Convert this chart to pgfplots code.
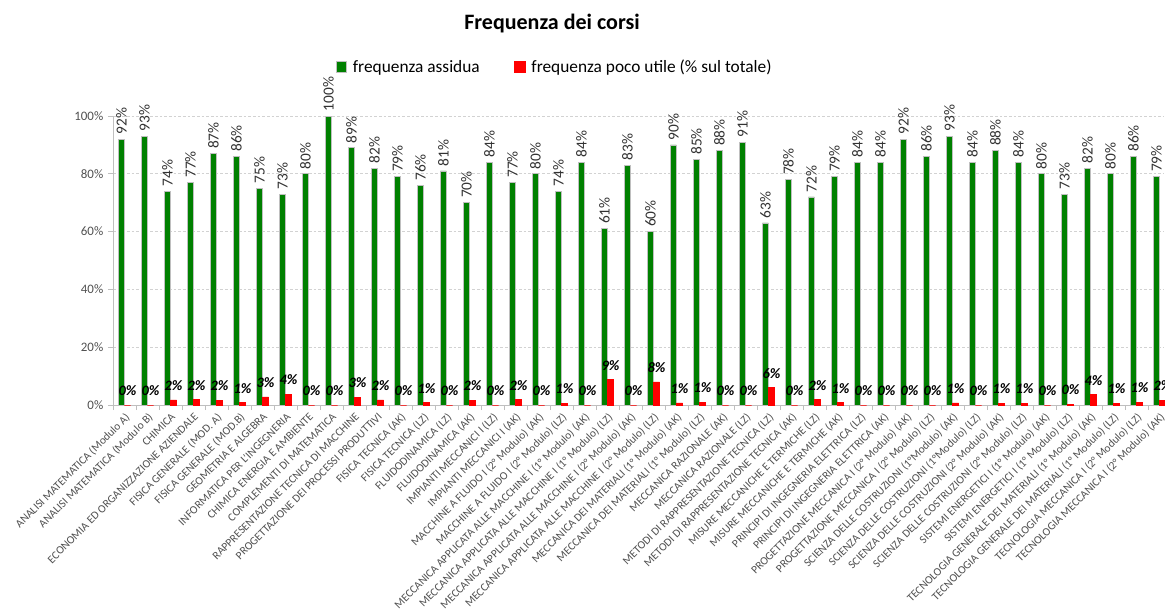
\documentclass[border=0pt]{standalone}
\usepackage{fontspec}
\setmainfont{Carlito}
\usepackage{pgfplots}
\pgfplotsset{compat=1.18}
\usepackage{pgfplotstable}
\usetikzlibrary{calc}
\definecolor{cgreen}{RGB}{0,128,0}
\definecolor{cred}{RGB}{255,0,0}
\definecolor{tickgray}{RGB}{80,80,80}
\definecolor{axisgray}{RGB}{191,191,191}
\definecolor{gridgray}{RGB}{210,210,210}
\definecolor{lblgray}{RGB}{50,50,50}

\pgfplotstableread{
x assidua pocoutile
0 92 0
1 93 0
2 74 1.8
3 77 1.9
4 87 1.7
5 86 0.8
6 75 2.8
7 73 3.8
8 80 0
9 100 0
10 89 2.7
11 82 1.8
12 79 0
13 76 0.8
14 81 0
15 70 1.7
16 84 0
17 77 1.9
18 80 0
19 74 0.6
20 84 0
21 61 8.8
22 83 0
23 60 8.0
24 90 0.7
25 85 1.0
26 88 0
27 91 0
28 63 6.0
29 78 0
30 72 1.9
31 79 0.8
32 84 0
33 84 0
34 92 0
35 86 0
36 93 0.7
37 84 0
38 88 0.6
39 84 0.6
40 80 0
41 73 0.3
42 82 3.6
43 80 0.6
44 86 1.0
45 79 1.6
}\datatable

\begin{document}
\begin{tikzpicture}
\begin{axis}[
  name=ax,
  scale only axis,
  width=788.25pt, height=216.75pt,
  xmin=-0.5, xmax=45.2,
  ymin=0, ymax=100,
  enlargelimits=false,
  clip=false,
  axis lines*=left,
  axis line style={draw=axisgray, line width=0.6pt},
  ybar=0pt,
  bar width=4.6pt,
  xtick={0,...,45},
  xticklabels={
    {ANALISI MATEMATICA (Modulo A)},
    {ANALISI MATEMATICA (Modulo B)},
    {CHIMICA},
    {ECONOMIA ED ORGANIZZAZIONE AZIENDALE},
    {FISICA GENERALE (MOD. A)},
    {FISICA GENERALE (MOD.B)},
    {GEOMETRIA E ALGEBRA},
    {INFORMATICA PER L'INGEGNERIA},
    {CHIMICA ENERGIA E AMBIENTE},
    {COMPLEMENTI DI MATEMATICA},
    {RAPPRESENTAZIONE TECNICA DI MACCHINE},
    {PROGETTAZIONE DEI PROCESSI PRODUTTIVI},
    {FISICA TECNICA (AK)},
    {FISICA TECNICA (LZ)},
    {FLUIDODINAMICA (LZ)},
    {FLUIDODINAMICA (AK)},
    {IMPIANTI MECCANICI I (LZ)},
    {IMPIANTI MECCANICI I (AK)},
    {MACCHINE A FLUIDO I (2° Modulo) (AK)},
    {MACCHINE A FLUIDO I (2° Modulo) (LZ)},
    {MECCANICA APPLICATA ALLE MACCHINE I (1° Modulo) (AK)},
    {MECCANICA APPLICATA ALLE MACCHINE I (1° Modulo) (LZ)},
    {MECCANICA APPLICATA ALLE MACCHINE I (2° Modulo) (AK)},
    {MECCANICA APPLICATA ALLE MACCHINE I (2° Modulo) (LZ)},
    {MECCANICA DEI MATERIALI (1° Modulo) (AK)},
    {MECCANICA DEI MATERIALI (1° Modulo) (LZ)},
    {MECCANICA RAZIONALE (AK)},
    {MECCANICA RAZIONALE (LZ)},
    {METODI DI RAPPRESENTAZIONE TECNICA (LZ)},
    {METODI DI RAPPRESENTAZIONE TECNICA (AK)},
    {MISURE MECCANICHE E TERMICHE (LZ)},
    {MISURE MECCANICHE E TERMICHE (AK)},
    {PRINCIPI DI INGEGNERIA ELETTRICA (LZ)},
    {PRINCIPI DI INGEGNERIA ELETTRICA (AK)},
    {PROGETTAZIONE MECCANICA I (2° Modulo) (AK)},
    {PROGETTAZIONE MECCANICA I (2° Modulo) (LZ)},
    {SCIENZA DELLE COSTRUZIONI (1°Modulo) (AK)},
    {SCIENZA DELLE COSTRUZIONI (1°Modulo) (LZ)},
    {SCIENZA DELLE COSTRUZIONI (2° Modulo) (AK)},
    {SCIENZA DELLE COSTRUZIONI (2° Modulo) (LZ)},
    {SISTEMI ENERGETICI I (1° Modulo) (AK)},
    {SISTEMI ENERGETICI I (1° Modulo) (LZ)},
    {TECNOLOGIA GENERALE DEI MATERIALI (1° Modulo) (AK)},
    {TECNOLOGIA GENERALE DEI MATERIALI (1° Modulo) (LZ)},
    {TECNOLOGIA MECCANICA I (2° Modulo) (LZ)},
    {TECNOLOGIA MECCANICA I (2° Modulo) (AK)}
  },
  xticklabel style={rotate=45, anchor=north east, inner sep=1pt,
    font=\fontsize{8.5}{10}\selectfont, text=tickgray},
  minor xtick={-0.5,0.5,...,45.5},
  major x tick style={draw=none},
  minor x tick style={draw=axisgray, line width=0.6pt},
  minor tick length=3.75pt,
  ytick={0,20,...,100},
  yticklabel={\pgfmathprintnumber{\tick}\%},
  /pgf/number format/assume math mode=true,
  yticklabel style={font=\fontsize{9.7}{11}\selectfont, text=tickgray},
  ytick style={draw=axisgray, line width=0.6pt},
  major tick length=3.75pt,
  tick align=outside,
  ymajorgrids,
  major grid style={draw=gridgray, dash pattern=on 2pt off 1.5pt, line width=0.5pt},
  title={Frequenza dei corsi},
  title style={at={(0.4177,1.294)}, anchor=center,
    font=\bfseries\fontsize{16.5}{19}\selectfont},
  legend columns=2,
  legend style={at={(0.4205,1.168)}, anchor=center, draw=none, fill=none,
    font=\fontsize{13}{15}\selectfont,
    /tikz/every odd column/.append style={column sep=2.5pt},
    /tikz/every even column/.append style={column sep=24pt}},
  legend image code/.code={\fill[#1] (0pt,-3.6pt) rectangle (8pt,4.4pt);},
]
\addplot[fill=cgreen, draw=axisgray, line width=0.5pt,
  nodes near coords={\pgfmathprintnumber[fixed,precision=0]{\pgfplotspointmeta}\%},
  nodes near coords style={rotate=90, anchor=west, text=lblgray,
    font=\fontsize{11.5}{13}\selectfont, /pgf/number format/assume math mode=true}]
  table[x=x, y=assidua] {\datatable};
\addlegendentry{frequenza assidua}
\addplot[fill=cred, draw=cred, line width=0.3pt,
  nodes near coords={\pgfmathprintnumber[fixed,precision=0]{\pgfplotspointmeta}\%},
  nodes near coords style={anchor=south, yshift=3.5pt, text=black,
    font=\bfseries\itshape\fontsize{10.8}{12}\selectfont, /pgf/number format/assume math mode=true}]
  table[x=x, y=pocoutile] {\datatable};
\addlegendentry{frequenza poco utile (\% sul totale)}
\coordinate (sw) at (rel axis cs:0,0);
\coordinate (ne) at (rel axis cs:1,1);
\end{axis}
\pgfresetboundingbox
\path[use as bounding box] ($(sw)+(-84.75pt,-154.5pt)$) rectangle ($(ne)+(0.75pt,87pt)$);
\end{tikzpicture}
\end{document}
